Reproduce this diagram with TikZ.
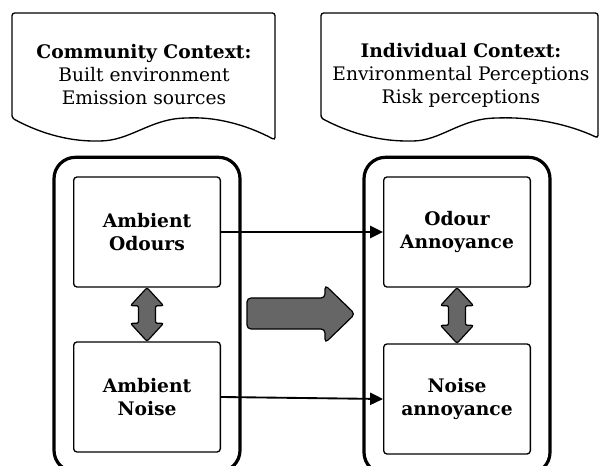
\documentclass[tikz,border=0pt]{standalone}
\usepackage{fontspec}
\setmainfont{DejaVu Serif}
\usetikzlibrary{arrows.meta,fit,calc}
\definecolor{blockgrey}{RGB}{102,102,102}

\begin{document}
\begin{tikzpicture}[
    x=0.75pt, y=-0.75pt,
    >={Triangle[length=3.4mm,width=3.2mm]},
    ctx/.style={draw=black, line width=1pt, rounded corners=2pt},
    inbox/.style={draw=black, line width=1pt, rounded corners=2.5pt,
                  minimum width=110pt, minimum height=82.5pt, align=center,
                  font=\fontsize{14}{17.25}\selectfont\bfseries},
    outbox/.style={draw=black, line width=2.4pt, rounded corners=16pt, inner sep=14.25pt},
    link/.style={->, line width=1.4pt},
    fat/.style={draw=black, fill=blockgrey, line width=0.9pt, rounded corners=1.5pt},
    tag/.style={align=center, font=\fontsize{14}{17.25}\selectfont},
  ]
  \useasboundingbox (0,0) rectangle (599,466);

  %% ---------------- context callouts ----------------
  \draw[ctx] (12,118) -- (12,13) -- (275,13) -- (275,140)
    .. controls (245,124) and (215,117) .. (187,118)
    .. controls (150,119) and (130,141) .. (97,141)
    .. controls (60,141) and (30,128) .. (12,118) -- cycle;
  \node[tag] (community) at (144,75)
    {\textbf{Community Context:}\\Built environment\\Emission sources};

  \draw[ctx] (321,118) -- (321,13) -- (598,13) -- (598,138)
    .. controls (566,123) and (530,117) .. (497,118)
    .. controls (460,119) and (440,141) .. (410,141)
    .. controls (370,141) and (340,128) .. (321,118) -- cycle;
  \node[tag] (individual) at (461,75)
    {\textbf{Individual Context:}\\Environmental Perceptions\\Risk perceptions};

  %% ---------------- exposures ----------------
  \node[inbox] (odours) at (147,232) {Ambient\\Odours};
  \node[inbox] (noise) at (147,397) {Ambient\\Noise};
  \node[outbox, fit=(odours)(noise)] (exposure) {};

  %% ---------------- annoyances ----------------
  \node[inbox] (odourann) at (457,232) {Odour\\Annoyance};
  \node[inbox] (noiseann) at (457,399) {Noise\\annoyance};
  \node[outbox, fit=(odourann)(noiseann)] (response) {};

  %% ---------------- links ----------------
  \draw[link] (odours.east) -- (odourann.west);
  \draw[link] (noise.east) -- (noiseann.west);

  % fat two-way arrows inside each column
  \foreach \a/\b in {odours/noise, odourann/noiseann} {
    \draw[fat] (\a.south) -- ++(16.5,18) -- ++(-8,0)
      -- ($(\b.north)+(8.5,-18)$) -- ++(8,0) -- (\b.north)
      -- ++(-16.5,-18) -- ++(8,0)
      -- ($(\a.south)+(-8.5,18)$) -- ++(-8,0) -- cycle;
  }

  % big block arrow between the columns
  \draw[fat, rounded corners=3pt] (247,298) -- (325,298) -- (325,285) -- (355,314)
    -- (325,343) -- (325,329) -- (247,329) -- cycle;

\end{tikzpicture}
\end{document}
